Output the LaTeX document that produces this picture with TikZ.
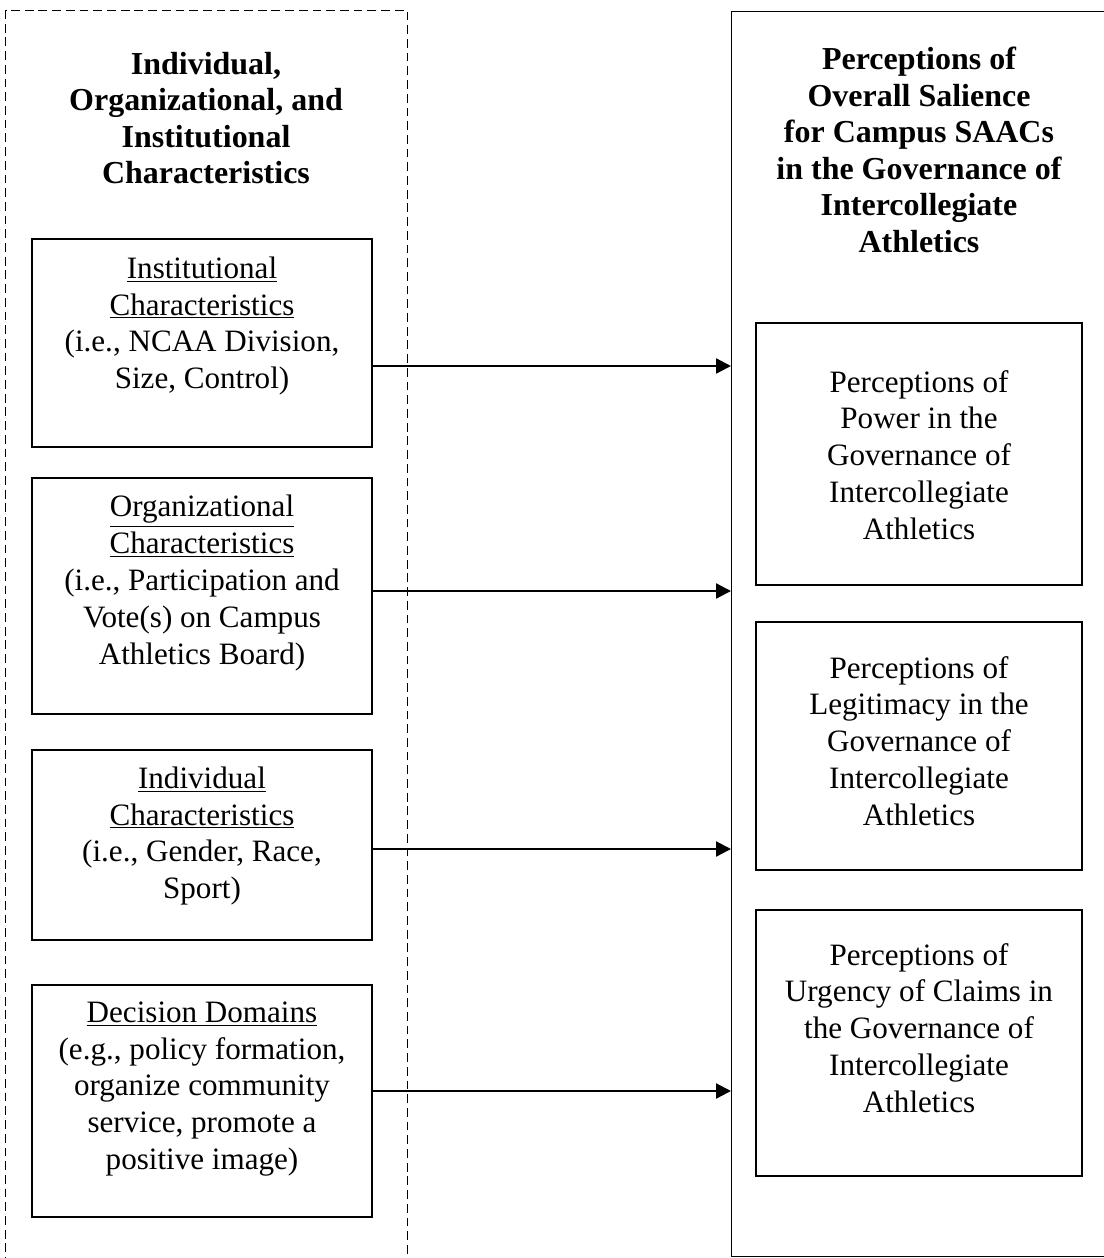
\documentclass[tikz,border=0pt]{standalone}
\usepackage{fontspec}
\setmainfont{Liberation Serif}
\usetikzlibrary{arrows.meta}

\tikzset{
  frame/.style={draw, anchor=north west, inner sep=0pt},
  varbox/.style={draw, line width=1pt, minimum width=6.8cm, inner sep=0pt},
  perbox/.style={draw, line width=1pt, minimum width=6.52cm, inner sep=0pt},
  boxtext/.style={align=center, inner sep=0pt, font=\fontsize{17.7}{21}\selectfont},
  headtext/.style={align=center, inner sep=0pt, font=\fontsize{18.2}{20.8}\selectfont\bfseries},
  arr/.style={-{Triangle[length=8.5pt,width=8.5pt]}, line width=1.3pt},
}

\begin{document}
\begin{tikzpicture}[x=0.02cm, y=-0.02cm]
    \clip (0,0) rectangle (1104,1258);
    \fill[white] (0,0) rectangle (1104,1258);

    % the two columns
    \node[frame, line width=0.7pt, dash pattern=on 5pt off 2.8pt,
          minimum width=8.04cm, minimum height=25.6cm] (chars) at (5,10) {};
    \node[frame, line width=0.8pt, minimum width=7.6cm, minimum height=24.9cm] (sal) at (731,11) {};

    \node[headtext] (charshead) at (206,118) {Individual,\\Organizational, and\\Institutional\\Characteristics};
    \node[headtext] (salhead) at (919,150) {Perceptions of\\Overall Salience\\for Campus SAACs\\in the Governance of\\Intercollegiate\\Athletics};

    % left boxes
    \node[varbox, minimum height=4.16cm] (inst) at (202,343) {};
    \node[varbox, minimum height=4.72cm] (org) at (202,596) {};
    \node[varbox, minimum height=3.8cm] (indiv) at (202,845) {};
    \node[varbox, minimum height=4.64cm] (dom) at (202,1101) {};

    \node[boxtext] (insttext) at (202,326) {\underline{Institutional}\\\underline{Characteristics}\\(i.e., NCAA Division,\\Size, Control)};
    \node[boxtext] (orgtext) at (202,583) {\underline{Organizational}\\\underline{Characteristics}\\(i.e., Participation and\\Vote(s) on Campus\\Athletics Board)};
    \node[boxtext] (indivtext) at (202,836) {\underline{Individual}\\\underline{Characteristics}\\(i.e., Gender, Race,\\Sport)};
    \node[boxtext] (domtext) at (202,1089) {\underline{Decision Domains}\\(e.g., policy formation,\\organize community\\service, promote a\\positive image)};

    % right boxes
    \node[perbox, minimum height=5.24cm] (power) at (919,454) {};
    \node[perbox, minimum height=4.96cm] (legit) at (919,746) {};
    \node[perbox, minimum height=5.32cm] (urg) at (919,1043) {};

    \node[boxtext] (powertext) at (919,455) {Perceptions of\\Power in the\\Governance of\\Intercollegiate\\Athletics};
    \node[boxtext] (legittext) at (919,741) {Perceptions of\\Legitimacy in the\\Governance of\\Intercollegiate\\Athletics};
    \node[boxtext] (urgtext) at (919,1028) {Perceptions of\\Urgency of Claims in\\the Governance of\\Intercollegiate\\Athletics};

    % arrows
    \draw[arr] (inst.east |- 0,366) -- (sal.west |- 0,366);
    \draw[arr] (org.east |- 0,591) -- (sal.west |- 0,591);
    \draw[arr] (indiv.east |- 0,849) -- (sal.west |- 0,849);
    \draw[arr] (dom.east |- 0,1091) -- (sal.west |- 0,1091);
\end{tikzpicture}
\end{document}
